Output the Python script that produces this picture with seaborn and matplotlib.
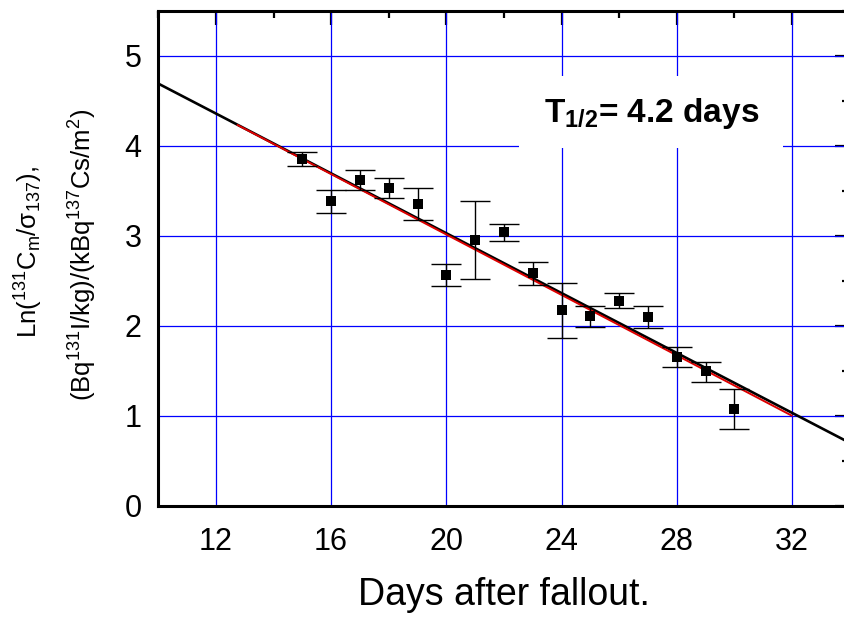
import numpy as np
import pandas as pd
import matplotlib
matplotlib.use("Agg")
import matplotlib.pyplot as plt
import seaborn as sns
from matplotlib.patches import Rectangle
from matplotlib.ticker import MultipleLocator

# ---- data ----
days = [15, 16, 17, 18, 19, 20, 21, 22, 23, 24, 25, 26, 27, 28, 29, 30]
ln_ratio = [3.85, 3.38, 3.62, 3.53, 3.35, 2.56, 2.95, 3.04, 2.58, 2.17, 2.11, 2.28, 2.10, 1.65, 1.50, 1.07]
err_upper = [3.93, 3.51, 3.73, 3.64, 3.53, 2.68, 3.38, 3.13, 2.71, 2.47, 2.22, 2.36, 2.22, 1.76, 1.60, 1.30]
err_lower = [3.77, 3.25, 3.51, 3.42, 3.17, 2.44, 2.52, 2.94, 2.45, 1.86, 1.99, 2.20, 1.97, 1.54, 1.38, 0.85]
fit_x = [10.0, 34.0]
fit_y = [4.69, 0.70]
fit_red_x = [12.75, 32.0]
fit_red_y = [4.23, 1.00]
x_ticks = [12, 16, 20, 24, 28, 32]
y_ticks = [0, 1, 2, 3, 4, 5]
annotation = r"$\mathbf{T_{1/2}}$= 4.2 days"
ylabel_line1 = r"Ln($\mathregular{^{131}C_m/σ_{137}}$),"
ylabel_line2 = r"(Bq$\mathregular{^{131}}$I/kg)/(kBq$\mathregular{^{137}}$Cs/m$\mathregular{^2}$)"
xlabel = "Days after fallout."

sns.set_theme(style="white")
plt.rcParams["font.family"] = ["Liberation Sans", "DejaVu Sans"]
plt.rcParams["mathtext.fontset"] = "custom"
plt.rcParams["mathtext.rm"] = "Liberation Sans"
plt.rcParams["mathtext.it"] = "Liberation Sans:italic"
plt.rcParams["mathtext.bf"] = "Liberation Sans:bold"
plt.rcParams["mathtext.sf"] = "Liberation Sans"
plt.rcParams["text.color"] = "black"
plt.rcParams["axes.labelcolor"] = "black"
plt.rcParams["xtick.color"] = "black"
plt.rcParams["ytick.color"] = "black"

W, H = 845, 619
fig = plt.figure(figsize=(W / 100, H / 100), dpi=100)
ax = fig.add_axes([158.3 / W, (H - 505.7) / H, (849.5 - 158.3) / W, (505.7 - 10.7) / H])

df = pd.DataFrame({"day": days, "val": ln_ratio})
lo = np.array(ln_ratio) - np.array(err_lower)
hi = np.array(err_upper) - np.array(ln_ratio)

# grid
for xt in x_ticks:
    ax.axvline(xt, color="#0000ff", lw=0.9, zorder=1)
for yt in y_ticks[1:]:
    ax.axhline(yt, color="#0000ff", lw=0.9, zorder=1)

# white box behind the annotation
ax.add_patch(Rectangle((22.54, 3.974), 9.15, 0.80, facecolor="white",
                       edgecolor="none", zorder=2))

# fit lines
sns.lineplot(x=fit_x, y=fit_y, color="black", lw=1.9, ax=ax, zorder=3)
sns.lineplot(x=fit_red_x, y=fit_red_y, color="#dd0000", lw=1.4, ax=ax, zorder=4)

# error bars and markers
ax.errorbar(days, ln_ratio, yerr=[lo, hi], fmt="none", ecolor="black",
            elinewidth=1.0, capsize=10.5, capthick=1.0, zorder=5)
sns.scatterplot(data=df, x="day", y="val", marker="s", s=48, color="black",
                edgecolor="black", linewidth=0, ax=ax, zorder=6)

ax.text(27.12, 4.36, annotation, fontsize=24, fontweight="bold",
        ha="center", va="center", zorder=7)

ax.set_xlim(10, 34)
ax.set_ylim(0, 5.5)
ax.set_xticks(x_ticks)
ax.set_yticks(y_ticks)
ax.xaxis.set_minor_locator(MultipleLocator(2))
ax.yaxis.set_minor_locator(MultipleLocator(0.5))
ax.tick_params(which="major", direction="in", length=10, width=1.6,
               top=True, right=True, labelsize=22, color="black")
ax.tick_params(axis="x", which="major", pad=15)
ax.tick_params(axis="y", which="major", pad=12)
ax.tick_params(which="minor", direction="in", length=5, width=1.6,
               top=True, right=True, color="black")
for sp in ax.spines.values():
    sp.set_linewidth(2.2)
    sp.set_color("black")
    sp.set_visible(True)

ax.set_xlabel(xlabel, fontsize=27, labelpad=15)
ax.set_ylabel("")

# two-line y label placed by baseline
fig.text(38 / W, 1 - 252 / H, ylabel_line1, rotation=90, rotation_mode="anchor",
         ha="center", va="baseline", fontsize=18.5)
fig.text(92 / W, 1 - 255 / H, ylabel_line2, rotation=90, rotation_mode="anchor",
         ha="center", va="baseline", fontsize=18.5)

fig.savefig("out.png", dpi=100)
